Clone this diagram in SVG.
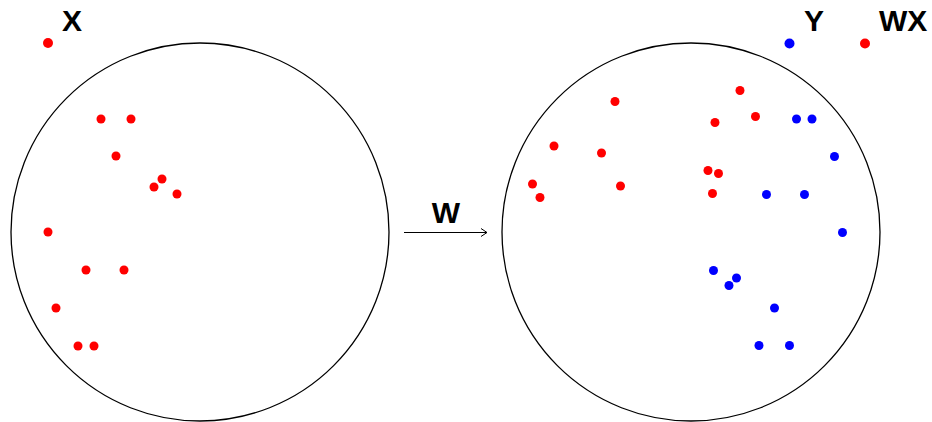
<svg xmlns="http://www.w3.org/2000/svg" width="932" height="422" viewBox="0 0 932 422">
<defs>
<style>
.ring{fill:none;stroke:#000;stroke-width:1.3}
.r{fill:#ff0000}
.b{fill:#0000ff}
.lbl{font-family:"Liberation Sans",Arial,sans-serif;font-weight:bold;font-size:30px;fill:#000}
.conn{stroke:#000;stroke-width:1;fill:none}
</style>
<marker id="arr" markerWidth="10" markerHeight="10" refX="8" refY="5" orient="auto" markerUnits="userSpaceOnUse">
<path d="M2,1 L8,5 L2,9" fill="none" stroke="#000" stroke-width="1"/>
</marker>
</defs>
<rect width="932" height="422" fill="#fff"/>
<g id="setX">
<circle class="ring" cx="200" cy="232" r="189"/>
<g>
<circle class="r" cx="101" cy="119" r="4.5"/>
<circle class="r" cx="131" cy="119" r="4.5"/>
<circle class="r" cx="116" cy="156" r="4.5"/>
<circle class="r" cx="162" cy="179" r="4.5"/>
<circle class="r" cx="154" cy="187" r="4.5"/>
<circle class="r" cx="177" cy="194" r="4.5"/>
<circle class="r" cx="48" cy="232" r="4.5"/>
<circle class="r" cx="86" cy="270" r="4.5"/>
<circle class="r" cx="124" cy="270" r="4.5"/>
<circle class="r" cx="56" cy="308" r="4.5"/>
<circle class="r" cx="78" cy="346" r="4.5"/>
<circle class="r" cx="94" cy="346" r="4.5"/>
</g>
</g>
<g id="legendX">
<circle class="r" cx="48" cy="43" r="5"/>
<text class="lbl" x="62" y="30.5">X</text>
</g>
<g id="setWX">
<circle class="ring" cx="691" cy="232" r="189"/>
<g>
<circle class="r" cx="615" cy="101.5" r="4.5"/>
<circle class="r" cx="554" cy="146" r="4.5"/>
<circle class="r" cx="601.5" cy="153" r="4.5"/>
<circle class="r" cx="532.5" cy="184" r="4.5"/>
<circle class="r" cx="620.5" cy="186" r="4.5"/>
<circle class="r" cx="540" cy="197.5" r="4.5"/>
<circle class="r" cx="740" cy="90.5" r="4.5"/>
<circle class="r" cx="755.5" cy="116.5" r="4.5"/>
<circle class="r" cx="715" cy="122.5" r="4.5"/>
<circle class="r" cx="708" cy="170.5" r="4.5"/>
<circle class="r" cx="718.5" cy="173.5" r="4.5"/>
<circle class="r" cx="712.5" cy="193.5" r="4.5"/>
</g>
<g>
<circle class="b" cx="796.5" cy="119" r="4.5"/>
<circle class="b" cx="812" cy="119" r="4.5"/>
<circle class="b" cx="834.5" cy="156.5" r="4.5"/>
<circle class="b" cx="766.5" cy="194.5" r="4.5"/>
<circle class="b" cx="804.5" cy="194.5" r="4.5"/>
<circle class="b" cx="842.5" cy="232.5" r="4.5"/>
<circle class="b" cx="713.5" cy="270.5" r="4.5"/>
<circle class="b" cx="736.5" cy="278" r="4.5"/>
<circle class="b" cx="729" cy="285.5" r="4.5"/>
<circle class="b" cx="774.5" cy="308" r="4.5"/>
<circle class="b" cx="759" cy="345.5" r="4.5"/>
<circle class="b" cx="789.5" cy="345.5" r="4.5"/>
</g>
</g>
<g id="legendY">
<circle class="b" cx="789.5" cy="43.5" r="5"/>
<text class="lbl" x="804" y="30.5">Y</text>
</g>
<g id="legendWX">
<circle class="r" cx="865" cy="43.5" r="5"/>
<text class="lbl" x="879" y="30.5">WX</text>
</g>
<g id="connectors">
<line class="conn" x1="404" y1="232.5" x2="487" y2="232.5" marker-end="url(#arr)"/>
<text class="lbl" x="446" y="222.5" text-anchor="middle">W</text>
</g>
</svg>
